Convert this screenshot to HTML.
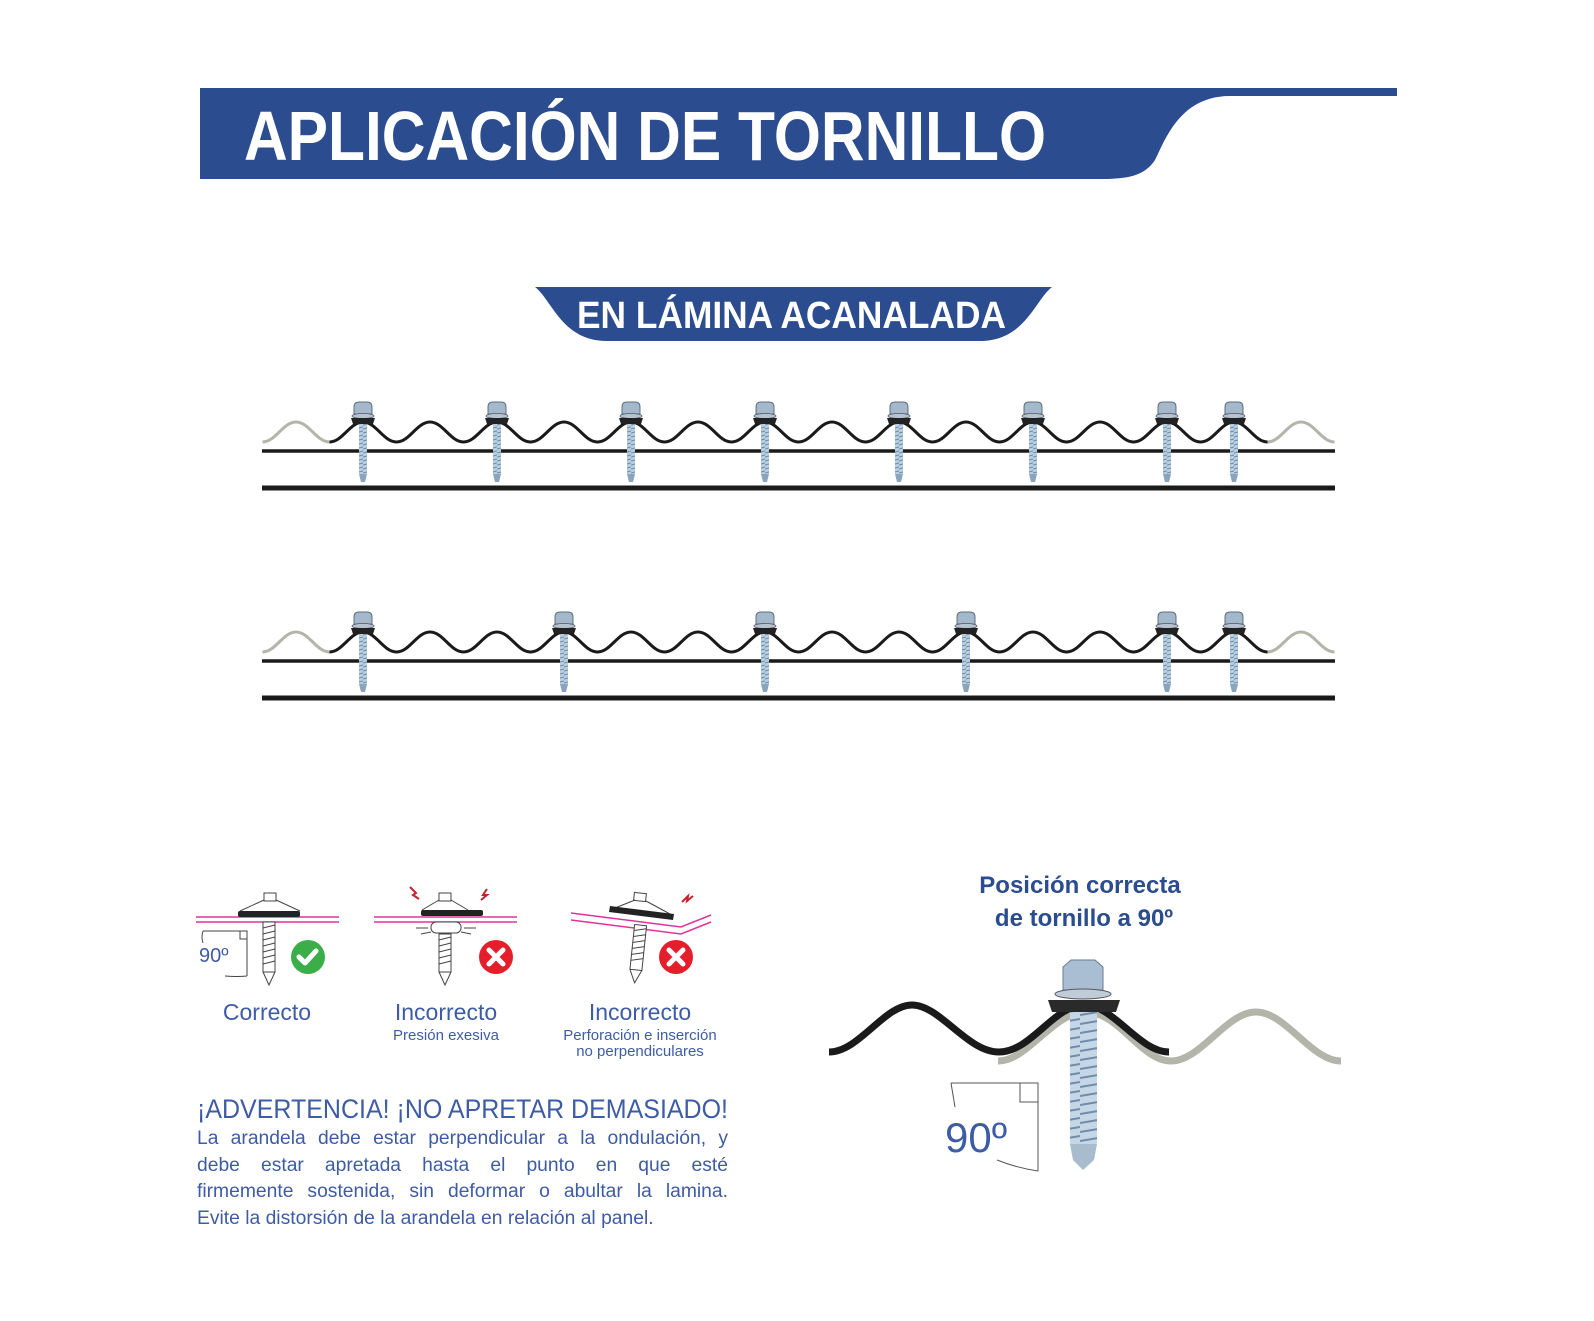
<!DOCTYPE html>
<html><head><meta charset="utf-8"><style>
html,body{margin:0;padding:0;background:#fff;}
svg{display:block;}
text{font-family:"Liberation Sans",sans-serif;}
.para{position:absolute;left:197px;top:1126px;width:531px;font-family:"Liberation Sans",sans-serif;font-size:19.3px;line-height:26.5px;color:#3d5ca5;text-align:justify;text-align-last:left;}
.para div{text-align:justify;text-align-last:justify;}
.para div.l{text-align-last:left;}
</style></head><body>
<div style="position:relative;width:1594px;height:1321px;">
<svg width="1594" height="1321" viewBox="0 0 1594 1321" xmlns="http://www.w3.org/2000/svg" style="position:absolute;left:0;top:0;">
<defs>
<pattern id="thr" width="8" height="4" patternUnits="userSpaceOnUse"><rect width="8" height="4" fill="#b8cfe2"/><line x1="0" y1="3" x2="8" y2="1" stroke="#6d8aa6" stroke-width="1"/></pattern>
<pattern id="thr2" width="30" height="9" patternUnits="userSpaceOnUse"><rect width="30" height="9" fill="#c5d7e6"/><line x1="0" y1="7" x2="30" y2="2" stroke="#6f8ca8" stroke-width="2"/></pattern>
<g id="sc">
<rect x="-4" y="0" width="8" height="52" fill="url(#thr)"/>
<path d="M-4,52 L4,52 L2,60 L-2,60 Z" fill="#8aa4bd"/>
<path d="M-9,-8 L-9,-15 Q-9,-20 -4,-20 L4,-20 Q9,-20 9,-15 L9,-8 Z" fill="#a4b8cc" stroke="#5d6e80" stroke-width="1"/>
<ellipse cx="0" cy="-6" rx="11" ry="2.5" fill="#b6c4d2" stroke="#556" stroke-width="0.8"/>
<path d="M-12,-4 L12,-4 L10,2 L-10,2 Z" fill="#222"/>
</g>
</defs>

<path d="M200,88 L1397,88 L1397,96 L1230,96 C1180,96 1165,140 1155,160 C1145,175 1130,179 1100,179 L200,179 Z" fill="#2b4c8e"/>
<text x="244" y="160" font-size="70" font-weight="bold" fill="#fff" textLength="802" lengthAdjust="spacingAndGlyphs">APLICACIÓN DE TORNILLO</text>

<path d="M535,287 L1052,287 C1035,300 1025,341 980,341 L607,341 C562,341 552,300 535,287 Z" fill="#2b4c8e"/>
<text x="577" y="328" font-size="38" font-weight="bold" fill="#fff" textLength="429" lengthAdjust="spacingAndGlyphs">EN LÁMINA ACANALADA</text>

<g id="row1">
<line x1="262" y1="451" x2="1335" y2="451" stroke="#1a1a1a" stroke-width="3.5"/>
<line x1="262" y1="488" x2="1335" y2="488" stroke="#1a1a1a" stroke-width="5"/>
<path d="M262.5,442 c13,0 20.5,-20 33.5,-20 s20.5,20 33.5,20" fill="none" stroke="#b3b5aa" stroke-width="3"/>
<path d="M1267.5,442 c13,0 20.5,-20 33.5,-20 s20.5,20 33.5,20" fill="none" stroke="#b3b5aa" stroke-width="3"/>
<path d="M329.5,442 c13,0 20.5,-20 33.5,-20
 s20.5,20 33.5,20 s20.5,-20 33.5,-20
 s20.5,20 33.5,20 s20.5,-20 33.5,-20
 s20.5,20 33.5,20 s20.5,-20 33.5,-20
 s20.5,20 33.5,20 s20.5,-20 33.5,-20
 s20.5,20 33.5,20 s20.5,-20 33.5,-20
 s20.5,20 33.5,20 s20.5,-20 33.5,-20
 s20.5,20 33.5,20 s20.5,-20 33.5,-20
 s20.5,20 33.5,20 s20.5,-20 33.5,-20
 s20.5,20 33.5,20 s20.5,-20 33.5,-20
 s20.5,20 33.5,20 s20.5,-20 33.5,-20
 s20.5,20 33.5,20 s20.5,-20 33.5,-20
 s20.5,20 33.5,20 s20.5,-20 33.5,-20
 s20.5,20 33.5,20 s20.5,-20 33.5,-20
 s20.5,20 33.5,20" fill="none" stroke="#1a1a1a" stroke-width="3"/>
</g>
<use href="#sc" x="363" y="422"/><use href="#sc" x="497" y="422"/><use href="#sc" x="631" y="422"/><use href="#sc" x="765" y="422"/><use href="#sc" x="899" y="422"/><use href="#sc" x="1033" y="422"/><use href="#sc" x="1167" y="422"/><use href="#sc" x="1234" y="422"/>

<use href="#row1" x="0" y="210"/>
<use href="#sc" x="363" y="632"/><use href="#sc" x="564" y="632"/><use href="#sc" x="765" y="632"/><use href="#sc" x="966" y="632"/><use href="#sc" x="1167" y="632"/><use href="#sc" x="1234" y="632"/>

<g stroke="#e0339a" stroke-width="1.5"><line x1="196" y1="917" x2="339" y2="917"/><line x1="196" y1="922" x2="339" y2="922"/>
<line x1="374" y1="917" x2="517" y2="917"/><line x1="374" y1="922" x2="517" y2="922"/>
<polyline points="571,913 681,927 711,915" fill="none"/><polyline points="571,920 681,934 711,922" fill="none"/></g>
<g fill="none" stroke="#444" stroke-width="1">
<rect x="264" y="893" width="12" height="8"/><path d="M264,900 L240,911 M276,900 L300,911"/>
<rect x="263" y="922" width="12" height="50" fill="#fff"/><path d="M263,928 l12,-3 M263,934 l12,-3 M263,940 l12,-3 M263,946 l12,-3 M263,952 l12,-3 M263,958 l12,-3 M263,964 l12,-3 M263,972 l6,13 l6,-13"/>
<path d="M203,931 L247,931 L247,976 M240,931 L240,939 L247,939 M203,931 q-2,6 0,12 M225,976 q12,1 22,0"/>
</g>
<rect x="238" y="911" width="62" height="6" rx="2" fill="#222"/>
<text x="199" y="962" font-size="20" fill="#3d5ca5">90º</text>
<circle cx="308" cy="957" r="17" fill="#3bae49"/><path d="M299,957 l6,6 l11,-12" fill="none" stroke="#fff" stroke-width="5" stroke-linecap="round" stroke-linejoin="round"/>
<g transform="translate(6,0)">
<g fill="none" stroke="#444" stroke-width="1">
<rect x="433" y="893" width="12" height="8"/><path d="M433,900 L416,910 M445,900 L462,910"/>
<rect x="433" y="934" width="12" height="38" fill="#fff"/><path d="M433,940 l12,-3 M433,946 l12,-3 M433,952 l12,-3 M433,958 l12,-3 M433,964 l12,-3 M433,972 l6,13 l6,-13"/>
<rect x="425" y="922" width="30" height="11" rx="5" fill="#fff"/><path d="M410,928 l12,0 M458,928 l12,0 M415,934 l10,-2 M455,932 l10,2"/>
</g>
<rect x="415" y="910" width="62" height="6" rx="2" fill="#222"/>
<path d="M404,887 l6,6 l-3,2 l6,4" fill="none" stroke="#c8202c" stroke-width="2"/><path d="M481,889 l-4,6 l4,0 l-6,5" fill="none" stroke="#c8202c" stroke-width="2"/>
</g>
<circle cx="496" cy="957" r="17" fill="#e41e2a"/><path d="M489,950 l14,14 M503,950 l-14,14" stroke="#fff" stroke-width="5" stroke-linecap="round"/>
<g transform="translate(10,0)">
<g fill="none" stroke="#444" stroke-width="1">
<rect x="624" y="893" width="12" height="8" transform="rotate(6 630 897)"/><path d="M625,900 L605,908 M636,901 L660,914"/>
<g transform="rotate(6 628 950)"><rect x="622" y="925" width="12" height="45" fill="#fff"/><path d="M622,931 l12,-3 M622,937 l12,-3 M622,943 l12,-3 M622,949 l12,-3 M622,955 l12,-3 M622,961 l12,-3 M622,970 l6,13 l6,-13"/></g>
</g>
<path d="M600,906 L664,914 L663,920 L599,912 Z" fill="#222"/>
<path d="M672,902 l6,-6 l-1,5 l6,-5" fill="none" stroke="#c8202c" stroke-width="2"/>
</g>
<circle cx="676" cy="957" r="17" fill="#e41e2a"/><path d="M669,950 l14,14 M683,950 l-14,14" stroke="#fff" stroke-width="5" stroke-linecap="round"/>

<g fill="#3d5ca5" text-anchor="middle">
<text x="267" y="1020" font-size="23">Correcto</text>
<text x="446" y="1020" font-size="23">Incorrecto</text>
<text x="446" y="1040" font-size="15">Presión exesiva</text>
<text x="640" y="1020" font-size="23">Incorrecto</text>
<text x="640" y="1040" font-size="15">Perforación e inserción</text>
<text x="640" y="1056" font-size="15">no perpendiculares</text>
</g>
<text x="197" y="1118" font-size="27" fill="#3d5ca5" textLength="531" lengthAdjust="spacingAndGlyphs">¡ADVERTENCIA! ¡NO APRETAR DEMASIADO!</text>

<g fill="#2b4c8e" font-weight="bold" text-anchor="middle" font-size="24">
<text x="1080" y="893">Posición correcta</text>
<text x="1084" y="926">de tornillo a 90º</text>
</g>
<path d="M998,1061 c30,0 55,-49 88,-49 s55,49 85,49 s55,-49 85,-49 s55,49 85,49" fill="none" stroke="#b3b5aa" stroke-width="7"/>
<path d="M829,1052 c30,0 55,-47 83,-47 s55,47 87,47 s55,-47 85,-47 s55,47 85,47" fill="none" stroke="#1a1a1a" stroke-width="7"/>
<rect x="1070" y="1012" width="27" height="132" fill="url(#thr2)"/>
<path d="M1070,1144 L1097,1144 L1094,1160 L1083,1170 L1073,1160 Z" fill="#a8bccd"/>
<path d="M1063,967 L1071,960 L1095,960 L1103,967 L1103,990 L1063,990 Z" fill="#a9bed3" stroke="#6a7d90"/>
<ellipse cx="1083" cy="994" rx="28" ry="5" fill="#c0ccd8" stroke="#556" stroke-width="1"/>
<path d="M1048,1000 L1120,1000 L1116,1012 L1052,1012 Z" fill="#2a2a2a"/>
<g fill="none" stroke="#555" stroke-width="1">
<path d="M951,1083 L1038,1083 L1038,1171 M1020,1083 L1020,1102 L1038,1102 M951,1083 q2,12 4,24 M997,1160 q20,8 41,11"/>
</g>
<text x="945" y="1152" font-size="42" fill="#3d5ca5">90º</text>
</svg>
<div class="para">
<div>La arandela debe estar perpendicular a la ondulación, y</div>
<div>debe estar apretada hasta el punto en que esté</div>
<div>firmemente sostenida, sin deformar o abultar la lamina.</div>
<div class="l">Evite la distorsión de la arandela en relación al panel.</div>
</div>
</div>
</body></html>
